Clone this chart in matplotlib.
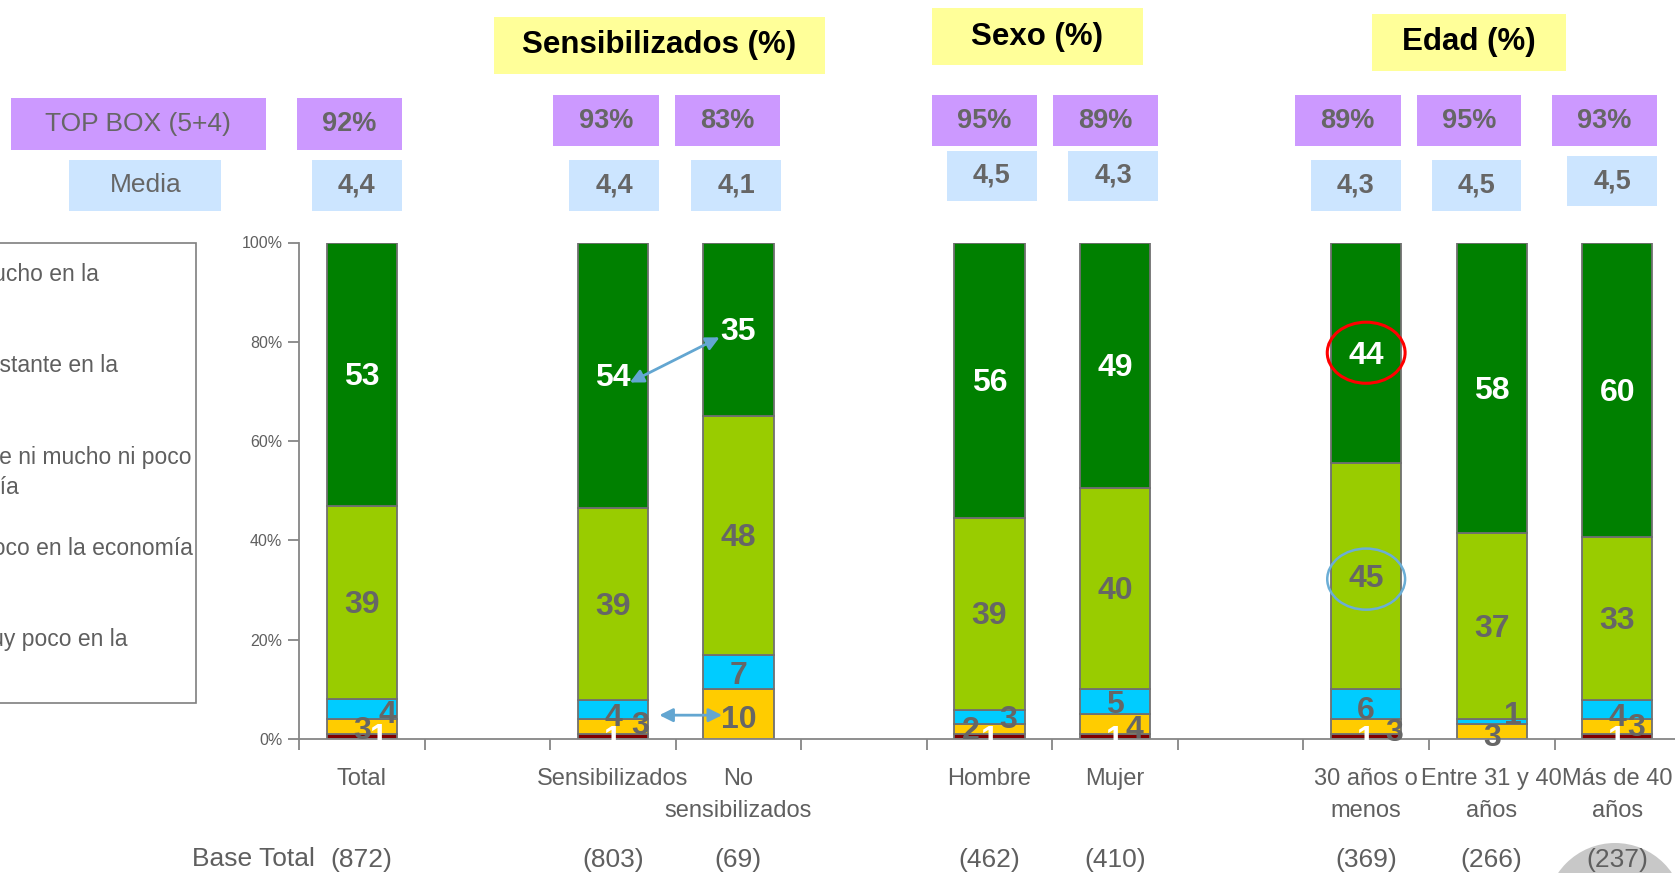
import matplotlib
matplotlib.use("Agg")
import matplotlib.pyplot as plt
from matplotlib.patches import Rectangle, Ellipse
import numpy as np

plt.rcParams['font.family'] = ['Liberation Sans', 'DejaVu Sans']

# ---------------- data ----------------
categories = ["Total", "Sensibilizados", "No\nsensibilizados", "Hombre", "Mujer",
              "30 años o\nmenos", "Entre 31 y 40\naños", "Más de 40\naños"]
slots = [0, 2, 3, 5, 6, 8, 9, 10]
muy_poco = [1, 1, 0, 1, 1, 1, 0, 1]
poco = [3, 3, 10, 2, 4, 3, 3, 3]
ni_mucho_ni_poco = [4, 4, 7, 3, 5, 6, 1, 4]
bastante = [39, 39, 48, 39, 40, 45, 37, 33]
mucho = [53, 54, 35, 56, 49, 44, 58, 60]
top_box = ["92%", "93%", "83%", "95%", "89%", "89%", "95%", "93%"]
media = ["4,4", "4,4", "4,1", "4,5", "4,3", "4,3", "4,5", "4,5"]
bases = ["(872)", "(803)", "(69)", "(462)", "(410)", "(369)", "(266)", "(237)"]
group_titles = ["Sensibilizados (%)", "Sexo (%)", "Edad (%)"]
legend_lines = [
    ("Influye mucho en la", "economía"),
    ("Influye bastante en la", "economía"),
    ("No influye ni mucho ni poco", "en la economía"),
    ("Influye poco en la economía", None),
    ("Influye muy poco en la", "economía"),
]

# ---------------- style / layout ----------------
W, H = 1675, 873
C_MP, C_PO, C_NI, C_BA, C_MU = "#800000", "#FFCC00", "#00CCFF", "#99CC00", "#008000"
GREY = "#666666"
TXT = "#5F5F5F"
LBL = 23

fig = plt.figure(figsize=(W / 100, H / 100), dpi=100)

def fx(x):
    return x / W

def fy(y):
    return 1 - y / H

ax_left, ax_bottom_px, ax_top_px, slot_w = 299, 739, 242.5, 125.55
ax_h = ax_bottom_px - ax_top_px
ax = fig.add_axes([fx(ax_left), fy(ax_bottom_px), 11 * slot_w / W, ax_h / H])
ax.patch.set_alpha(0)

series = [muy_poco, poco, ni_mucho_ni_poco, bastante, mucho]
colors = [C_MP, C_PO, C_NI, C_BA, C_MU]
arr = np.array(series, dtype=float)
tot = arr.sum(axis=0)
norm = arr / tot * 100
bottoms = np.zeros(len(slots))
bw = 0.56
for vals, col in zip(norm, colors):
    ax.bar(slots, vals, bottom=bottoms, width=bw, color=col, edgecolor="#707070",
           linewidth=1.3, zorder=2)
    bottoms = bottoms + vals

ax.set_xlim(-0.5, 10.5)
ax.set_ylim(0, 100)
for s in ["top", "right"]:
    ax.spines[s].set_visible(False)
for s in ["left", "bottom"]:
    ax.spines[s].set_color("#868686")
    ax.spines[s].set_linewidth(1.3)
ax.set_yticks([0, 20, 40, 60, 80, 100])
ax.set_yticklabels(["0%", "20%", "40%", "60%", "80%", "100%"], fontsize=11.5, color=TXT)
ax.set_xticks(np.arange(-0.5, 11, 1.0))
ax.set_xticklabels([])
ax.tick_params(axis="both", direction="out", length=8, color="#868686", width=1.3)
ax.tick_params(axis="y", pad=4)

def seg_label(x, y, s, col):
    ax.annotate(s, (x, y), xytext=(0, -2), textcoords="offset points", ha="center",
                va="center", fontsize=LBL, fontweight="bold", color=col, zorder=6,
                annotation_clip=False)

# big segment labels (centered)
cum = np.cumsum(norm, axis=0)
for i, x in enumerate(slots):
    seg_label(x, cum[2][i] + norm[3][i] / 2, str(bastante[i]), GREY)
    seg_label(x, cum[3][i] + norm[4][i] / 2, str(mucho[i]), "white")

# small segment label placements (dx, y) per category: muy poco, poco, ni
small_pos = [
    [(0.14, 0.8), (0.0, 2.2), (0.2, 5.4)],
    [(0.0, 0.4), (0.215, 3.2), (0.0, 4.8)],
    [None, (0.0, 4.4), (0.0, 13.3)],
    [(0.0, 0.4), (-0.15, 2.2), (0.15, 4.4)],
    [(0.0, 0.4), (0.15, 2.4), (0.0, 7.4)],
    [(0.0, 0.4), (0.22, 1.8), (0.0, 6.2)],
    [None, (0.0, 0.8), (0.17, 5.2)],
    [(0.0, 0.4), (0.15, 2.8), (0.0, 4.8)],
]
for i, x in enumerate(slots):
    for k, (vals, col) in enumerate(zip([muy_poco, poco, ni_mucho_ni_poco], ["white", GREY, GREY])):
        p = small_pos[i][k]
        if p is None or vals[i] == 0:
            continue
        seg_label(x + p[0], p[1], str(vals[i]), col)

# arrows
arrow_col = "#63A6D1"
ax.annotate("", xy=(2.135, 71.8), xytext=(2.85, 80.9),
            arrowprops=dict(arrowstyle="<|-|>", color=arrow_col, lw=2,
                            mutation_scale=20, shrinkA=0, shrinkB=0), zorder=7)
ax.annotate("", xy=(2.37, 4.8), xytext=(2.87, 4.8),
            arrowprops=dict(arrowstyle="<|-|>", color=arrow_col, lw=2,
                            mutation_scale=20, shrinkA=0, shrinkB=0), zorder=7)
# ellipses
ax.add_patch(Ellipse((8, 77.8), 0.62, 12.3, fill=False, edgecolor="#FF0000", lw=2.2, zorder=7, clip_on=False))
ax.add_patch(Ellipse((8, 32.2), 0.62, 12.3, fill=False, edgecolor="#6BAED6", lw=1.8, zorder=7, clip_on=False))

# category labels (each line on its own baseline) and bases
xt = ax.get_xaxis_transform()
first_base, line_step = 785, 32
for x, lab, b in zip(slots, categories, bases):
    for j, line in enumerate(lab.split("\n")):
        yb = first_base + j * line_step
        ax.text(x, (ax_bottom_px - yb) / ax_h, line, transform=xt, ha="center",
                va="baseline", fontsize=17, color=TXT, clip_on=False)
    ax.text(x, (ax_bottom_px - 866.5) / ax_h, b, transform=xt, ha="center", va="baseline",
            fontsize=19, color=TXT, clip_on=False, zorder=5)
fig.text(fx(315), fy(866.5), "Base Total", ha="right", va="baseline", fontsize=19, color=TXT)

# grey circle bottom right
fig.add_artist(Ellipse((fx(1615), fy(912)), 2 * 69 / W, 2 * 69 / H, facecolor="#C8C8C8",
                       edgecolor="none", transform=fig.transFigure, zorder=-1))

# top boxes
def box(x0, y0, x1, y1, color, text=None, size=19.5, weight="bold", tcolor=GREY):
    fig.add_artist(Rectangle((fx(x0), fy(y1)), (x1 - x0) / W, (y1 - y0) / H,
                             facecolor=color, edgecolor="none", transform=fig.transFigure))
    if text is not None:
        fig.text(fx((x0 + x1) / 2), fy((y0 + y1) / 2), text, ha="center", va="center",
                 fontsize=size, fontweight=weight, color=tcolor)

PURPLE, LBLUE, YEL = "#CC99FF", "#CCE5FF", "#FFFF99"
box(10.7, 98.3, 266, 149.6, PURPLE, "TOP BOX (5+4)", 19, "normal")
box(69.4, 160.2, 221.1, 210.5, LBLUE, "Media", 19, "normal")

purple_x = [(297, 401.7), (553.4, 659.1), (675.2, 779.9), (931.6, 1037.3), (1053.3, 1158),
            (1294.8, 1400.5), (1416.6, 1521.3), (1552.2, 1657)]
purple_y = [(98.3, 149.6)] + [(95.1, 146.4)] * 7
blue_x = [(312, 401.7), (569.4, 659.1), (691.2, 781), (946.5, 1037.3), (1068.3, 1158),
          (1310.8, 1400.5), (1431.5, 1521.3), (1567.2, 1657)]
blue_y = [(160.2, 210.5)] * 3 + [(150.6, 200.8)] * 2 + [(160.2, 210.5)] * 2 + [(156, 206.2)]
for i in range(len(slots)):
    box(purple_x[i][0], purple_y[i][0], purple_x[i][1], purple_y[i][1], PURPLE, top_box[i])
    box(blue_x[i][0], blue_y[i][0], blue_x[i][1], blue_y[i][1], LBLUE, media[i])

title_boxes = [(493.6, 17.1, 824.7, 73.7), (931.6, 8.5, 1143.1, 65.2), (1371.7, 13.9, 1566.1, 70.5)]
for t, (x0, y0, x1, y1) in zip(group_titles, title_boxes):
    box(x0, y0, x1, y1, YEL, t, 22.5, "bold", "black")

# legend box (partly outside the figure)
fig.add_artist(Rectangle((fx(-300), fy(703)), (195.5 + 300) / W, (703 - 242.5) / H,
                         facecolor="none", edgecolor="#7F7F7F", lw=1.2, transform=fig.transFigure))
leg_right = [99, 118, 192, 193, 128]
leg_y = [274.5, 365.8, 457.2, 548.5, 639.8]
line_gap = 30
for (l1, l2), xr, y in zip(legend_lines, leg_right, leg_y):
    fig.text(fx(xr), fy(y), l1, ha="right", va="center", fontsize=16.5, color=TXT)
    if l2 is None:
        continue
    # second lines: only the end of the third entry reaches into the picture
    xr2 = 19 if l2 == "en la economía" else -4
    fig.text(fx(xr2), fy(y + line_gap), l2, ha="right", va="center", fontsize=16.5, color=TXT)

fig.savefig("out.png", dpi=100)
